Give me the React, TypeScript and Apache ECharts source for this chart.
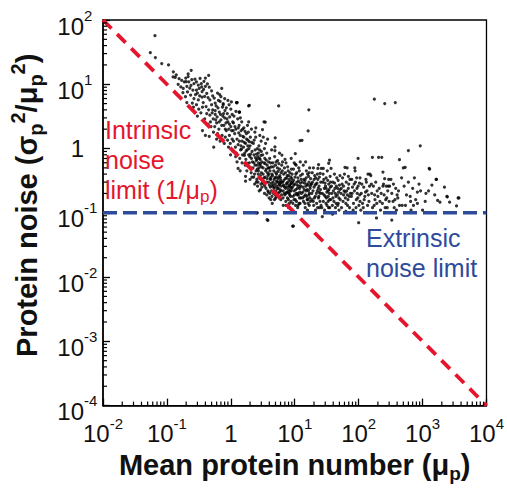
import React, { useEffect, useRef } from "react";
import * as echarts from "echarts";

// ---------- axis decades & tick labels ----------
const xDecades = [0.01, 0.1, 1, 10, 100, 1000, 10000];
const xTickBase = ["10", "10", "1", "10", "10", "10", "10"];
const xTickExp = ["-2", "-1", "", "1", "2", "3", "4"];
const yDecades = [0.0001, 0.001, 0.01, 0.1, 1, 10, 100];
const yTickBase = ["10", "10", "10", "10", "1", "10", "10"];
const yTickExp = ["-4", "-3", "-2", "-1", "", "1", "2"];
const minorMultipliers = [2, 3, 4, 5, 6, 7, 8, 9];

// ---------- reference lines ----------
const intrinsicLimit = [[0.01, 100], [10000, 0.0001]];
const extrinsicLimit = [[0.01, 0.1], [10000, 0.1]];

// ---------- scatter data (mean protein number, noise) ----------
const ptsSparseTop = [
  [0.065, 57], [0.055, 31], [0.066, 26], [0.083, 21], [0.106, 20], [0.126, 15.6], [0.125, 13],
  [0.155, 12.2], [0.197, 12.5], [0.215, 13.2], [0.24, 16.5], [0.45, 13.7],
  [0.187, 10.9], [0.165, 9.1], [0.18, 8.6], [0.14, 14], [0.17, 11.5], [0.15, 10], [0.135, 12.8], [0.178, 7.4],
];
const ptsBandA = [
  [0.22, 10.9], [0.265, 10.2], [0.205, 9.3], [0.255, 8.1], [0.235, 6.8], [0.265, 6.0], [0.205, 5.2], [0.25, 5.1],
  [0.21, 7.6], [0.245, 11.8], [0.228, 8.7], [0.195, 6.4], [0.26, 4.4], [0.215, 14.5], [0.238, 9.6], [0.2, 11],
  [0.29, 10.9], [0.31, 9.7], [0.38, 11.1], [0.35, 9.1], [0.29, 8.1], [0.355, 7.7], [0.31, 5.7], [0.355, 6.3],
  [0.29, 4.8], [0.34, 3.6], [0.28, 6.9], [0.32, 8.6], [0.37, 5.2], [0.3, 3.2], [0.33, 12.3], [0.36, 4.4],
  [0.275, 12], [0.315, 4.1], [0.345, 10.2], [0.375, 8.3], [0.3, 7.3], [0.325, 6.6],
  [0.40, 9.3], [0.42, 7.2], [0.47, 5.7], [0.42, 3.5], [0.47, 3.3], [0.40, 1.6], [0.46, 1.55], [0.39, 6.5],
  [0.44, 6.2], [0.5, 4.8], [0.52, 4.0], [0.41, 4.5], [0.48, 2.6], [0.53, 2.9], [0.45, 4.0], [0.5, 7.9],
  [0.43, 10.1], [0.51, 3.6], [0.39, 2.9], [0.49, 2.2], [0.52, 6.6], [0.44, 2.4], [0.36, 1.9], [0.535, 1.8],
  [0.46, 9], [0.4, 12.5],
  [0.57, 5.1], [0.68, 5.4], [0.57, 3.4], [0.61, 3.1], [0.66, 3.7], [0.72, 8.6], [0.70, 6.4], [0.54, 1.05],
  [0.68, 1.3], [0.6, 2.5], [0.63, 4.3], [0.74, 4.4], [0.56, 2.2], [0.65, 2.0], [0.7, 2.8], [0.59, 4.6],
  [0.75, 3.2], [0.62, 1.7], [0.72, 2.3], [0.55, 6.1], [0.67, 6.9], [0.58, 2.8], [0.64, 5.6], [0.73, 1.6],
  [0.6, 1.4], [0.69, 3.4], [0.57, 3.9], [0.66, 2.6], [0.76, 5.0], [0.62, 7.3],
];
const ptsBandB = [
  [0.76, 4.8], [0.94, 4.8], [0.85, 4.3], [0.81, 3.9], [0.8, 3.0], [0.9, 2.6], [1.0, 2.2], [0.85, 1.9],
  [0.95, 1.6], [1.05, 3.4], [0.78, 2.3], [0.88, 3.5], [0.98, 1.2], [1.05, 1.4], [0.82, 1.5], [0.92, 1.05],
  [0.8, 6.0], [1.0, 4.1], [0.87, 2.9], [1.07, 2.6], [0.96, 3.1], [0.79, 1.2], [0.9, 5.6], [1.03, 1.9],
  [0.84, 2.5], [0.93, 2.0], [0.77, 3.5], [1.08, 0.9], [0.99, 0.8], [0.89, 1.35], [1.02, 5.3], [0.82, 2.0], [0.95, 2.4],
  [1.26, 5.2], [1.23, 5.2], [1.34, 3.7], [1.37, 3.7], [1.3, 0.49], [1.1, 2.5], [1.2, 2.0], [1.4, 1.6],
  [1.5, 1.3], [1.15, 1.7], [1.25, 1.4], [1.35, 2.3], [1.45, 1.9], [1.12, 3.2], [1.18, 1.05], [1.3, 1.15],
  [1.42, 0.95], [1.52, 0.8], [1.22, 0.85], [1.38, 0.7], [1.48, 2.6], [1.28, 2.9], [1.1, 1.3], [1.2, 3.8],
  [1.44, 1.1], [1.33, 1.75], [1.16, 2.2], [1.5, 0.6], [1.4, 0.45], [1.25, 0.62], [1.54, 1.55], [1.36, 1.3],
  [1.47, 0.98], [1.19, 0.75], [1.31, 2.1], [1.09, 1.9], [1.41, 3.0], [1.53, 2.0],
  [1.95, 4.7], [1.9, 2.6], [1.7, 0.37], [1.7, 0.31], [1.8, 0.59], [1.6, 1.5], [1.7, 1.2], [1.8, 0.95],
  [1.9, 0.8], [2.0, 1.1], [2.1, 0.7], [1.65, 0.85], [1.75, 1.7], [1.85, 1.35], [1.95, 0.6], [2.05, 0.5],
  [2.15, 0.9], [1.6, 2.1], [1.72, 0.68], [1.82, 2.3], [1.92, 1.0], [2.02, 1.5], [2.12, 1.25], [1.58, 1.05],
  [1.68, 0.55], [1.78, 0.45], [1.88, 1.8], [1.98, 0.75], [2.08, 0.42], [2.18, 0.62], [1.63, 0.78], [1.74, 0.92],
  [1.84, 1.1], [1.94, 1.28], [2.04, 0.82], [2.14, 0.36], [1.67, 1.85], [1.77, 1.4], [2.1, 2.0], [1.62, 1.25], [2.0, 0.33],
  [2.6, 0.1], [2.5, 0.1], [2.3, 0.8], [2.4, 0.55], [2.5, 0.65], [2.6, 1.0], [2.7, 0.45], [2.8, 0.7],
  [2.9, 0.38], [3.0, 0.9], [2.25, 1.2], [2.35, 0.4], [2.45, 1.5], [2.55, 0.33], [2.65, 0.75], [2.75, 1.1],
  [2.85, 0.55], [2.95, 0.28], [3.05, 0.62], [2.3, 0.6], [2.4, 0.95], [2.5, 0.3], [2.6, 0.48], [2.7, 0.85],
  [2.8, 0.35], [2.9, 0.58], [3.0, 0.42], [2.22, 0.5], [2.32, 1.35], [2.42, 0.72], [2.52, 0.82], [2.62, 0.26],
  [2.72, 0.6], [2.82, 0.95], [2.92, 0.23], [3.02, 0.52], [2.28, 0.36], [2.38, 1.8], [2.48, 0.45], [2.58, 0.55],
  [2.68, 0.4], [2.78, 0.22], [2.88, 0.68], [2.98, 1.3], [3.08, 0.33], [2.46, 2.1], [2.84, 1.6], [2.36, 0.28],
  [2.66, 0.3], [2.96, 0.78], [2.56, 0.68], [2.76, 0.5], [3.06, 0.25],
];
const ptsCore = [
  [3.3, 2.6], [3.46, 2.58], [3.13, 1.97], [3.7, 0.078], [4.4, 0.18], [3.8, 0.076], [3.2, 0.5], [3.3, 0.35],
  [3.4, 0.7], [3.5, 0.45], [3.6, 0.3], [3.7, 0.55], [3.8, 0.38], [3.9, 0.62], [4.0, 0.27], [4.1, 0.45],
  [4.2, 0.33], [4.3, 0.52], [3.15, 0.8], [3.25, 0.28], [3.35, 1.0], [3.45, 0.58], [3.55, 0.24], [3.65, 0.85],
  [3.75, 0.42], [3.85, 0.21], [3.95, 0.4], [4.05, 0.7], [4.15, 0.25], [4.25, 0.36], [4.35, 0.95], [3.2, 0.4],
  [3.3, 0.6], [3.4, 0.26], [3.5, 1.2], [3.6, 0.48], [3.7, 0.34], [3.8, 0.22], [3.9, 0.3], [4.0, 0.5],
  [4.1, 0.2], [4.2, 0.6], [4.3, 0.29], [4.4, 0.4], [3.12, 0.3], [3.58, 0.66], [3.98, 0.17], [4.22, 0.16],
  [3.36, 0.2], [3.76, 1.4], [4.32, 0.22], [3.44, 0.36], [3.88, 0.5], [3.22, 1.5], [4.12, 0.34], [3.66, 0.19], [4.42, 0.26],
  [4.95, 1.47], [4.9, 1.06], [4.9, 0.93], [4.45, 0.14], [5.0, 0.167], [6.3, 0.79], [4.6, 0.3], [4.7, 0.45],
  [4.8, 0.25], [4.9, 0.35], [5.0, 0.55], [5.1, 0.22], [5.2, 0.4], [5.3, 0.3], [5.4, 0.65], [5.5, 0.2],
  [5.6, 0.36], [5.7, 0.27], [5.8, 0.48], [5.9, 0.23], [6.0, 0.32], [6.1, 0.42], [6.2, 0.19], [4.55, 0.6],
  [4.65, 0.2], [4.75, 0.33], [4.85, 0.75], [4.95, 0.28], [5.05, 0.42], [5.15, 0.18], [5.25, 0.26], [5.35, 0.5],
  [5.45, 0.34], [5.55, 0.24], [5.65, 0.58], [5.75, 0.21], [5.85, 0.38], [5.95, 0.29], [6.05, 0.16], [6.15, 0.26],
  [6.25, 0.55], [4.5, 0.38], [4.72, 0.24], [4.98, 0.19], [5.22, 0.31], [5.48, 0.44], [5.72, 0.17], [5.98, 0.35],
  [6.22, 0.3], [4.62, 0.52], [5.12, 0.62], [5.62, 0.3], [6.12, 0.22], [4.82, 0.16], [5.32, 0.24], [5.82, 0.28],
  [4.58, 0.27], [5.78, 0.85], [5.08, 0.36],
  [6.5, 0.3], [6.6, 0.22], [6.7, 0.4], [6.8, 0.26], [6.9, 0.5], [7.0, 0.19], [7.1, 0.34], [7.2, 0.24],
  [7.3, 0.6], [7.4, 0.28], [7.5, 0.21], [7.6, 0.38], [7.7, 0.17], [7.8, 0.3], [7.9, 0.45], [8.0, 0.23],
  [8.1, 0.33], [8.2, 0.2], [8.3, 0.27], [8.4, 0.42], [8.5, 0.25], [8.6, 0.18], [8.7, 0.36], [8.8, 0.22],
  [8.9, 0.29], [6.4, 0.45], [6.55, 0.17], [6.75, 0.32], [6.95, 0.25], [7.15, 0.42], [7.35, 0.2], [7.55, 0.29],
  [7.75, 0.52], [7.95, 0.16], [8.15, 0.26], [8.35, 0.19], [8.55, 0.31], [8.75, 0.15], [8.95, 0.24], [6.45, 0.62],
  [6.85, 0.2], [7.25, 0.15], [7.65, 0.25], [8.05, 0.38], [8.45, 0.22], [8.85, 0.48], [6.65, 0.27], [7.05, 0.68],
  [7.45, 0.35], [7.85, 0.21], [8.25, 0.14], [8.65, 0.28], [6.6, 0.13], [7.3, 0.13], [8.0, 0.12], [8.8, 0.7], [9.0, 0.34],
  [9.3, 0.062], [9.5, 0.062], [10.2, 0.83], [10.2, 0.57], [11.1, 0.12], [12.2, 0.62], [13, 1.34], [12.1, 1.33],
  [9.2, 0.25], [9.4, 0.18], [9.6, 0.32], [9.8, 0.22], [10, 0.28], [10.2, 0.16], [10.4, 0.4], [10.6, 0.2],
  [10.8, 0.3], [11, 0.24], [11.2, 0.35], [11.4, 0.19], [11.6, 0.26], [11.8, 0.45], [12, 0.21], [12.2, 0.29],
  [12.4, 0.17], [12.6, 0.33], [9.1, 0.4], [9.35, 0.14], [9.65, 0.27], [9.9, 0.19], [10.1, 0.36], [10.35, 0.23],
  [10.65, 0.15], [10.9, 0.27], [11.15, 0.2], [11.45, 0.31], [11.7, 0.14], [11.95, 0.24], [12.3, 0.38], [12.7, 0.2],
  [9.55, 0.48], [10.5, 0.55], [11.3, 0.13], [12.5, 0.26], [9.75, 0.16], [10.75, 0.42], [11.85, 0.17], [9.25, 0.3],
  [10.3, 0.13], [11.55, 0.5], [12.1, 0.14], [10.95, 0.19], [9.8, 0.6],
  [16.2, 1.88], [13.5, 0.25], [14, 0.18], [14.5, 0.32], [15, 0.22], [15.5, 0.28], [16, 0.16], [16.5, 0.37],
  [17, 0.2], [17.5, 0.26], [13.2, 0.4], [13.7, 0.15], [14.2, 0.29], [14.7, 0.19], [15.2, 0.45], [15.7, 0.23],
  [16.2, 0.14], [16.7, 0.3], [17.2, 0.17], [17.7, 0.34], [13.4, 0.21], [13.9, 0.33], [14.4, 0.14], [14.9, 0.26],
  [15.4, 0.18], [15.9, 0.4], [16.4, 0.22], [16.9, 0.13], [17.4, 0.24], [13.1, 0.3], [13.6, 0.55], [14.1, 0.23],
  [14.6, 0.12], [15.1, 0.35], [15.6, 0.16], [16.1, 0.27], [16.6, 0.19], [17.1, 0.5], [17.6, 0.15], [14.8, 0.62],
  [15.8, 0.11], [13.3, 0.17], [16.8, 0.42], [17.9, 0.28],
  [23, 0.49], [26, 0.49], [27, 0.087], [18.5, 0.2], [19, 0.3], [19.5, 0.15], [20, 0.25], [20.5, 0.38],
  [21, 0.18], [21.5, 0.28], [22, 0.14], [22.5, 0.22], [23, 0.33], [23.5, 0.17], [24, 0.26], [24.5, 0.12],
  [25, 0.2], [25.5, 0.3], [18.8, 0.42], [19.3, 0.22], [19.8, 0.13], [20.3, 0.17], [20.8, 0.27], [21.3, 0.35],
  [21.8, 0.2], [22.3, 0.29], [22.8, 0.12], [23.3, 0.24], [23.8, 0.18], [24.3, 0.36], [24.8, 0.15], [25.3, 0.23],
  [18.3, 0.28], [19.6, 0.5], [21.1, 0.11], [22.6, 0.4], [24.1, 0.21], [25.8, 0.13], [20.1, 0.33], [23.6, 0.56],
  [18.6, 0.16], [25, 0.41],
  [28, 0.49], [34, 0.59], [35, 0.66], [37, 0.49], [27, 0.2], [27.5, 0.3], [28, 0.15], [29, 0.24],
  [30, 0.18], [31, 0.35], [32, 0.13], [33, 0.22], [34, 0.28], [35, 0.16], [36, 0.25], [26.5, 0.12],
  [27.8, 0.4], [28.8, 0.19], [29.8, 0.29], [30.8, 0.14], [31.8, 0.21], [32.8, 0.32], [33.8, 0.12], [34.8, 0.2],
  [35.8, 0.37], [29.3, 0.11], [30.3, 0.26], [31.3, 0.17], [32.3, 0.45], [33.3, 0.15], [34.3, 0.23], [35.3, 0.12],
  [36.3, 0.3], [28.5, 0.33], [31, 0.24], [33.5, 0.18], [36.5, 0.16],
  [39, 0.095], [38, 0.2], [39.5, 0.3], [41, 0.15], [42.5, 0.24], [44, 0.18], [45.5, 0.35], [47, 0.13],
  [48.5, 0.21], [50, 0.27], [51.5, 0.16], [38.8, 0.13], [40.3, 0.22], [41.8, 0.4], [43.3, 0.12], [44.8, 0.26],
  [46.3, 0.19], [47.8, 0.32], [49.3, 0.11], [50.8, 0.23], [39.6, 0.17], [42, 0.29], [44.4, 0.14], [46.8, 0.24],
  [49, 0.17], [51, 0.38], [37.5, 0.26], [43, 0.2], [48, 0.14],
];
const ptsTail = [
  [60, 0.4], [61, 0.51], [63, 0.105], [66, 0.5], [53, 0.2], [55, 0.28], [57, 0.15], [59, 0.22],
  [62, 0.17], [64, 0.3], [67, 0.13], [69, 0.24], [71, 0.18], [73, 0.33], [54, 0.12], [56, 0.35],
  [58, 0.19], [65, 0.22], [68, 0.16], [70, 0.28], [72, 0.12], [74, 0.2], [58, 0.26], [63, 0.14],
  [69, 0.37], [53.5, 0.24], [61.5, 0.21], [66.5, 0.19],
  [87, 0.5], [88, 0.45], [98, 0.7], [100, 0.07], [77, 0.18], [80, 0.25], [83, 0.14], [86, 0.22],
  [89, 0.3], [92, 0.16], [95, 0.2], [98, 0.26], [101, 0.13], [104, 0.19], [78, 0.33], [82, 0.11],
  [85, 0.28], [91, 0.12], [94, 0.24], [97, 0.17], [103, 0.29], [79, 0.2], [93, 0.35], [105, 0.15],
  [105, 0.35], [130, 0.33], [140, 0.4], [150, 0.4], [155, 0.38], [110, 0.2], [115, 0.14], [120, 0.25],
  [125, 0.18], [135, 0.22], [145, 0.15], [112, 0.28], [118, 0.12], [128, 0.21], [138, 0.13], [148, 0.26],
  [122, 0.16], [132, 0.3], [142, 0.19], [108, 0.11],
  [164, 0.73], [190, 0.083], [205, 0.73], [215, 0.15], [160, 0.2], [170, 0.26], [180, 0.16], [195, 0.22],
  [175, 0.13], [185, 0.3], [200, 0.18], [210, 0.24], [165, 0.12], [178, 0.19], [158, 0.28], [192, 0.14],
  [230, 0.73], [240, 0.43], [255, 0.34], [240, 0.26], [270, 0.26], [290, 0.26], [295, 0.33], [305, 0.26],
  [330, 0.077], [225, 0.2], [235, 0.14], [250, 0.19], [260, 0.12], [275, 0.17], [285, 0.22], [300, 0.15],
  [245, 0.28], [265, 0.16], [280, 0.12], [220, 0.11],
  [320, 0.33], [345, 0.15], [400, 0.19], [435, 0.67], [470, 0.35], [480, 0.13], [435, 0.13], [540, 0.13],
  [535, 0.51], [515, 0.26], [500, 0.5], [330, 0.2], [360, 0.12], [380, 0.24], [410, 0.17], [350, 0.28],
  [390, 0.11], [420, 0.22], [370, 0.16],
  [600, 0.93], [640, 0.18], [650, 0.15], [720, 0.13], [745, 0.35], [830, 0.14], [930, 0.22], [830, 0.21],
  [1000, 0.11], [600, 0.3], [700, 0.24], [560, 0.19], [780, 0.16], [880, 0.28], [660, 0.11],
  [920, 1.1], [1130, 0.2], [1240, 0.22], [1270, 0.49], [1290, 0.48], [1650, 0.33], [1630, 0.33], [1720, 0.156],
  [1870, 0.146], [1100, 0.15], [1400, 0.27], [1550, 0.19],
  [2440, 0.177], [2400, 0.18], [3700, 0.17], [3600, 0.17], [2650, 0.146], [3400, 0.128], [2200, 0.25],
];
const ptsIsolated = [
  [1.23, 5.2], [1.9, 4.6], [5.6, 4.6], [16.6, 4.0], [1.37, 3.7], [176, 5.85], [256, 5.0], [374, 5.2],
];

const FONT = '"Liberation Sans", Arial, Helvetica, sans-serif';
const RED = "#e5152d";
const BLUE = "#2e4a9b";

function decadeIndex(decades: number[], v: number) {
  for (let i = 0; i < decades.length; i++) {
    if (Math.abs(Math.log10(v) - Math.log10(decades[i])) < 1e-6) return i;
  }
  return -1;
}

export default function App() {
  const ref = useRef<HTMLDivElement>(null);
  useEffect(() => {
    if (!ref.current) return;
    const chart = echarts.init(ref.current, undefined, { renderer: "svg" });

    const xMinor: number[][] = [];
    for (let i = 0; i < xDecades.length - 1; i++)
      for (const m of minorMultipliers) xMinor.push([xDecades[i] * m, 0.0001]);
    const yMinor: number[][] = [];
    for (let i = 0; i < yDecades.length - 1; i++)
      for (const m of minorMultipliers) yMinor.push([0.01, yDecades[i] * m]);

    const allPts = [...ptsSparseTop, ...ptsBandA, ...ptsBandB, ...ptsCore, ...ptsTail, ...ptsIsolated];

    const option: any = {
      animation: false,
      grid: { left: 97, top: 20, right: 18, bottom: 74, show: true, borderColor: "#000", borderWidth: 1.3 },
      xAxis: {
        type: "log",
        logBase: 10,
        min: 0.01,
        max: 10000,
        axisLine: { show: true, onZero: false, lineStyle: { color: "#000", width: 1.5 } },
        axisTick: { show: true, inside: true, length: 7, lineStyle: { color: "#000", width: 1.3 } },
        splitLine: { show: false },
        minorTick: { show: false },
        axisLabel: {
          margin: 10,
          formatter: (v: number) => {
            const i = decadeIndex(xDecades, v);
            if (i < 0) return "";
            return xTickExp[i] ? `{b|${xTickBase[i]}}{s|${xTickExp[i]}}` : `{b|${xTickBase[i]}}`;
          },
          rich: {
            b: { fontSize: 24, lineHeight: 36, fontFamily: FONT, color: "#111" },
            s: { fontSize: 15, lineHeight: 15, verticalAlign: "top", fontFamily: FONT, color: "#111" },
          },
        },
        name: "{t|Mean protein number (μ}{sub|p}{t|)}",
        nameLocation: "middle",
        nameGap: 41,
        nameTextStyle: {
          rich: {
            t: { fontSize: 29, fontWeight: "bold", lineHeight: 36, fontFamily: FONT, color: "#111" },
            sub: { fontSize: 19, fontWeight: "bold", lineHeight: 19, verticalAlign: "bottom", fontFamily: FONT, color: "#111" },
          },
        },
      },
      yAxis: [
        {
          type: "log",
          logBase: 10,
          min: 0.0001,
          max: 100,
          axisLine: { show: true, onZero: false, lineStyle: { color: "#000", width: 1.5 } },
          axisTick: { show: true, inside: true, length: 7, lineStyle: { color: "#000", width: 1.3 } },
          splitLine: { show: false },
          axisLabel: {
            margin: 19,
            align: "right",
            formatter: (v: number) => {
              const i = decadeIndex(yDecades, v);
              if (i < 0) return "";
              return yTickExp[i] ? `{b|${yTickBase[i]}}` : `{c|${yTickBase[i]}}`;
            },
            rich: {
              b: { fontSize: 24, lineHeight: 24, padding: [12, 0, 0, 0], fontFamily: FONT, color: "#111" },
              c: { fontSize: 24, lineHeight: 24, fontFamily: FONT, color: "#111" },
            },
          },
          name: "{t|Protein noise (σ}{sub|p}{sup|2}{t|/μ}{sub|p}{sup|2}{t|)}",
          nameLocation: "middle",
          nameGap: 57,
          nameTextStyle: {
            padding: [0, 0, 0, 15],
            rich: {
              t: { fontSize: 29, fontWeight: "bold", lineHeight: 38, fontFamily: FONT, color: "#111" },
              sub: { fontSize: 20, fontWeight: "bold", lineHeight: 20, verticalAlign: "bottom", fontFamily: FONT, color: "#111" },
              sup: { fontSize: 20, fontWeight: "bold", lineHeight: 20, verticalAlign: "top", fontFamily: FONT, color: "#111" },
            },
          },
        },
        {
          type: "log",
          logBase: 10,
          min: 0.0001,
          max: 100,
          position: "left",
          axisLine: { show: false },
          axisTick: { show: false },
          splitLine: { show: false },
          axisLabel: {
            margin: 19,
            align: "left",
            formatter: (v: number) => {
              const i = decadeIndex(yDecades, v);
              if (i < 0 || !yTickExp[i]) return "";
              return `{e|${yTickExp[i]}}`;
            },
            rich: {
              e: { fontSize: 15, lineHeight: 15, padding: [0, 0, 10, 0], fontFamily: FONT, color: "#111" },
            },
          },
        },
      ],
      series: [
        {
          type: "scatter",
          data: allPts,
          symbol: "circle",
          symbolSize: 3.2,
          itemStyle: { color: "#000" },
          silent: true,
          z: 2,
        },
        {
          type: "line",
          data: intrinsicLimit,
          symbol: "none",
          lineStyle: { color: RED, width: 3.8, type: [12, 8] },
          silent: true,
          z: 3,
        },
        {
          type: "line",
          data: extrinsicLimit,
          symbol: "none",
          lineStyle: { color: BLUE, width: 3.4, type: [14, 6] },
          silent: true,
          z: 3,
        },
        {
          type: "custom",
          data: xMinor,
          silent: true,
          clip: false,
          z: 4,
          renderItem: (params: any, api: any) => {
            const p = api.coord([api.value(0), api.value(1)]);
            return {
              type: "line",
              shape: { x1: p[0], y1: p[1], x2: p[0], y2: p[1] - 4 },
              style: { stroke: "#000", lineWidth: 1.2 },
            };
          },
        },
        {
          type: "custom",
          data: yMinor,
          silent: true,
          clip: false,
          z: 4,
          renderItem: (params: any, api: any) => {
            const p = api.coord([api.value(0), api.value(1)]);
            return {
              type: "line",
              shape: { x1: p[0], y1: p[1], x2: p[0] + 4, y2: p[1] },
              style: { stroke: "#000", lineWidth: 1.2 },
            };
          },
        },
      ],
      graphic: [
        {
          type: "text",
          left: 105,
          top: 117,
          z: 10,
          style: {
            text: "{a|Intrinsic}\n{a|noise}\n{a|limit (1/μ}{s|p}{a|)}",
            rich: {
              a: { fontSize: 25, lineHeight: 30, fontFamily: FONT, fill: RED },
              s: { fontSize: 17, lineHeight: 17, verticalAlign: "bottom", fontFamily: FONT, fill: RED },
            },
          },
        },
        {
          type: "text",
          left: 366,
          top: 225,
          z: 10,
          style: {
            text: "{a|Extrinsic}\n{a|noise limit}",
            rich: {
              a: { fontSize: 25, lineHeight: 30, fontFamily: FONT, fill: BLUE },
            },
          },
        },
      ],
    };

    chart.setOption(option);
    return () => chart.dispose();
  }, []);

  return (
    <div
      ref={ref}
      style={{ position: "fixed", left: 0, top: 0, width: 507, height: 488, background: "#fff" }}
    />
  );
}
